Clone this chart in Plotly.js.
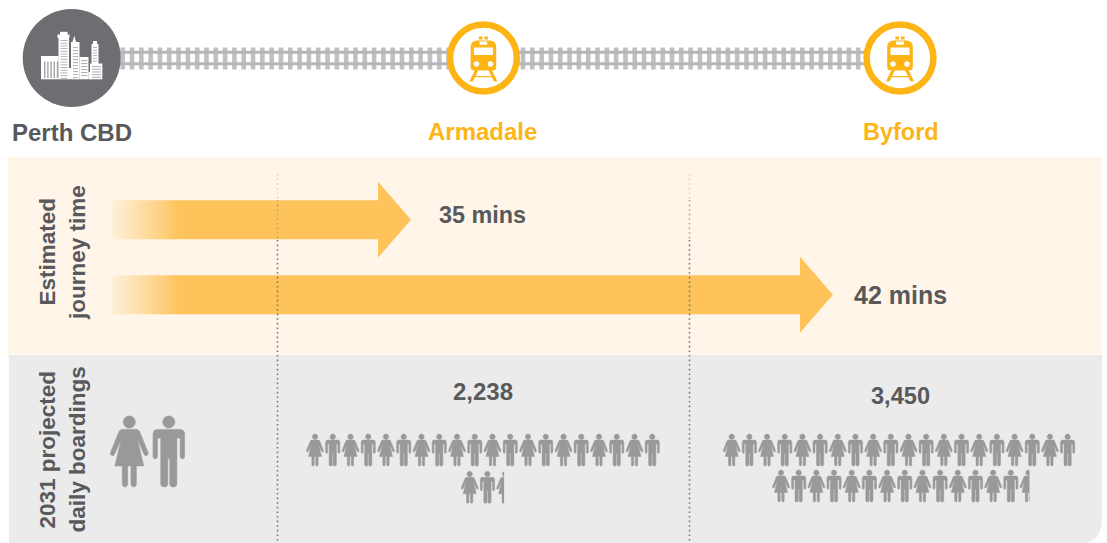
<!DOCTYPE html>
<html>
<head>
<meta charset="utf-8">
<script src="https://cdn.plot.ly/plotly-3.0.1.min.js"></script>
<style>html,body{margin:0;padding:0;background:#fff}#chart{width:1107px;height:543px}</style>
</head>
<body>
<div id="chart"></div>
<script>
// ---- values ----
const originLabel = "Perth CBD";
const journeyStations = ["Armadale", "Byford"];
const journeyMinutes = [35, 42];
const boardings = [2238, 3450];
const boardingsPerIcon = 100;
const iconsPerRow = 20;
const journeyLabel = ["Estimated", "journey time"];
const boardingLabel = ["2031 projected", "daily boardings"];

// ---- styling / layout ----
const GREY_TXT = "#58595b", AMBER = "#fdb515", ICON = "#98999b", ARROW = "#fec35a";
const FONT = "Liberation Sans, Arial, sans-serif";
const W = 1107, H = 543;
const PANEL_GREY = "#ebebeb", PANEL_CREAM = "#fff5e8";

// icon outlines, in units of a 212-tall drawing (origin top-centre)
const ICON_H = 212;
const womanCmds = [
  ["M",-22,40],["L",22,40],["Q",28,41,31,47],["L",56,109],["Q",58,116,52,118],["Q",47,120,44,114],["L",24,68],
  ["L",43,149],["L",21,149],["L",21,204],["Q",20,212,13,212],["Q",6,212,5,204],["L",5,149],["L",-5,149],["L",-5,204],
  ["Q",-6,212,-13,212],["Q",-20,212,-21,204],["L",-21,149],["L",-43,149],["L",-24,68],["L",-44,114],["Q",-47,120,-52,118],
  ["Q",-58,116,-56,109],["L",-31,47],["Q",-28,41,-22,40],["Z"]
];
const manCmds = [
  ["M",-34,40],["L",34,40],["Q",47,41,47,54],["L",47,120],["Q",47,128,40,128],["Q",34,128,34,120],["L",34,66],["L",24,66],
  ["L",24,204],["Q",23,212,13,212],["Q",4,212,3,204],["L",3,128],["L",-3,128],["L",-3,204],["Q",-4,212,-13,212],
  ["Q",-23,212,-24,204],["L",-24,66],["L",-34,66],["L",-34,120],["Q",-34,128,-40,128],["Q",-47,128,-47,120],["L",-47,54],
  ["Q",-47,41,-34,40],["Z"]
];
const ICON_HALF_W = {woman:58, man:47};

function circlePath(cx, cy, r){
  const k = 0.5523*r;
  return `M${cx-r},${cy}C${cx-r},${cy-k} ${cx-k},${cy-r} ${cx},${cy-r}C${cx+k},${cy-r} ${cx+r},${cy-k} ${cx+r},${cy}`+
         `C${cx+r},${cy+k} ${cx+k},${cy+r} ${cx},${cy+r}C${cx-k},${cy+r} ${cx-r},${cy+k} ${cx-r},${cy}Z`;
}
function iconPath(kind, cx, top, height){
  const s = height/ICON_H;
  const cmds = kind === "woman" ? womanCmds : manCmds;
  let p = "";
  for (const c of cmds){
    p += c[0];
    const nums = [];
    for (let i=1;i<c.length;i+=2) nums.push((cx+c[i]*s).toFixed(2)+","+(top+c[i+1]*s).toFixed(2));
    p += nums.join(" ");
  }
  return p + circlePath(cx, top+18*s, 18*s);
}

const shapes = [];
function pathShape(path, fill, layer, strokeW){
  shapes.push({type:"path", path, fillcolor:fill, line:{width:strokeW||0, color:fill}, layer:layer||"below", xref:"x", yref:"y"});
}
function rectShape(x0,y0,x1,y1,fill,layer){
  shapes.push({type:"rect", x0,y0,x1,y1, fillcolor:fill, line:{width:0}, layer:layer||"below", xref:"x", yref:"y"});
}

// panels
pathShape("M8,157L1102,157L1102,354.5L8,354.5Z", PANEL_CREAM);
pathShape("M9,355L1102,355L1102,518Q1102,543 1082,543L9,543Z", PANEL_GREY);

// railway track
const tieStep = 9.31;
for (let x=122.7; x<865; x+=tieStep) rectShape(x-2.3,47.5,x+2.3,69.5,"#bfc0c2");
rectShape(120,50.8,866,53.8,"#b5b6b8");
rectShape(120,62.3,866,65.3,"#b5b6b8");

// Perth CBD circle and skyline
const cityX = 71.7, cityY = 58;
pathShape(circlePath(cityX,cityY,49),"#6d6e71");
[[41,56,58.5,79.3],[58.5,36,69,79.3],[71,42,79.5,79.3],[79.5,57,88.5,79.3],[91.5,44,98.5,64],[90,63.5,102.3,79.3],[88.5,72,91,79.3],[69,68,71,79.3]]
  .forEach(b=>rectShape(b[0],b[1],b[2],b[3],"#fff"));
rectShape(60,31.8,67.5,36.5,"#fff");
rectShape(57.5,34.5,69.5,38,"#fff");
pathShape("M72.5,42L74.3,35.5L76,42Z","#fff");
rectShape(93,41,97,44.5,"#fff");
for (let x=44; x<57; x+=3.2) rectShape(x,61.5,x+1.4,78,"#a3a4a6");
for (let y=40; y<78; y+=2.7) rectShape(60.5,y,67.5,y+1,"#b3b4b6");
for (let y=47; y<78; y+=3) rectShape(73,y,78,y+1.1,"#b3b4b6");
for (let y=60; y<78; y+=3) rectShape(81,y,87.5,y+1.1,"#b3b4b6");
for (let y=47; y<62; y+=2.7) rectShape(93,y,97,y+1,"#b3b4b6");
for (let y=66; y<78; y+=2.7) rectShape(92,y,101,y+1.1,"#b3b4b6");

// stations: ring + train
const ringCentres = [483.4, 900];
ringCentres.forEach(c=>{
  const y = 58;
  shapes.push({type:"circle", x0:c-33.4,x1:c+33.4,y0:y-33.4,y1:y+33.4, fillcolor:"#fff", line:{color:AMBER,width:6.5}, layer:"below", xref:"x", yref:"y"});
  pathShape(`M${c-12.8},${y+9}L${c-12.8},${y-11}Q${c-12.8},${y-17.5} ${c-6},${y-17.5}L${c+6},${y-17.5}Q${c+12.8},${y-17.5} ${c+12.8},${y-11}L${c+12.8},${y+9}Q${c+12.8},${y+12.5} ${c+9},${y+12.5}L${c-9},${y+12.5}Q${c-12.8},${y+12.5} ${c-12.8},${y+9}Z`,AMBER);
  rectShape(c-4.6,y-21.5,c-1,y-18.5,AMBER);
  rectShape(c+1,y-21.5,c+4.6,y-18.5,AMBER);
  rectShape(c-3.8,y-16.5,c+3.8,y-13.2,"#fff");
  rectShape(c-9.5,y-10.5,c+9.5,y-3,"#fff");
  pathShape(circlePath(c-7,y+6,2.8),"#fff");
  pathShape(circlePath(c+7,y+6,2.8),"#fff");
  pathShape(`M${c-8.5},${y+12}L${c-5},${y+12}L${c-10.5},${y+23.5}L${c-14},${y+23.5}Z`,AMBER);
  pathShape(`M${c+8.5},${y+12}L${c+5},${y+12}L${c+10.5},${y+23.5}L${c+14},${y+23.5}Z`,AMBER);
  rectShape(c-9,y+18,c+9,y+19.2,AMBER);
});

// dotted dividers, fading out towards the top
[277.5, 689.5].forEach(x=>{
  [[174,200,"#d8d4ce"],[200,240,"#aaa8a4"],[240,543,"#77787b"]].forEach(seg=>{
    shapes.push({type:"line", x0:x, x1:x, y0:seg[0], y1:seg[1], layer:"above", xref:"x", yref:"y",
      line:{color:seg[2], width:1.6, dash:"1.6px,3px"}});
  });
});

// pictogram rows: one figure per boardingsPerIcon, alternating woman / man
const rowGeom = [
  {row1X:315, row2X:469.7, step:17.75, row1Top:434, row2Top:471.3},
  {row1X:731.7, row2X:781, step:17.68, row1Top:434, row2Top:470}
];
const ICON_SMALL = 32;
boardings.forEach((v,i)=>{
  const g = rowGeom[i];
  const n = v/boardingsPerIcon;
  const total = Math.ceil(n);
  let whole = "";
  const clips = [];
  for (let k=0;k<total;k++){
    const kind = k%2===0 ? "woman" : "man";
    const inFirst = k<iconsPerRow;
    const cx = inFirst ? g.row1X+k*g.step : g.row2X+(k-iconsPerRow)*g.step;
    const top = inFirst ? g.row1Top : g.row2Top;
    whole += iconPath(kind,cx,top,ICON_SMALL);
    const frac = Math.min(1,n-k);
    if (frac<1){
      const hw = ICON_HALF_W[kind]*ICON_SMALL/ICON_H;
      clips.push([cx-hw+frac*2*hw+1,top-1,cx+hw+2,top+ICON_SMALL+1]);
    }
  }
  pathShape(whole,ICON,"below",0.5);
  clips.forEach(c=>rectShape(c[0],c[1],c[2],c[3],PANEL_GREY));
});

// legend pair of large figures
pathShape(iconPath("woman",129.3,416,71),ICON,"below",0.6);
pathShape(iconPath("man",168.8,416,71),ICON,"below",0.6);

// journey arrows (drawn as filled traces so the gradient follows the axis)
const arrowGeom = [
  {tail:112, neck:378, tip:411, y:219.7, shaft:19.5, head:38},
  {tail:112, neck:800, tip:833, y:294.7, shaft:19.5, head:38}
];
const traces = journeyMinutes.map((m,i)=>{
  const a = arrowGeom[i];
  return {
    type:"scatter", mode:"lines", name:journeyStations[i]+" "+m+" mins",
    x:[a.tail,a.neck,a.neck,a.tip,a.neck,a.neck,a.tail,a.tail],
    y:[a.y-a.shaft,a.y-a.shaft,a.y-a.head,a.y,a.y+a.head,a.y+a.shaft,a.y+a.shaft,a.y-a.shaft],
    fill:"toself", line:{width:0,color:ARROW},
    fillgradient:{type:"horizontal", start:112, stop:180,
      colorscale:[[0,"#fff0d9"],[0.5,"#fedb9f"],[1,ARROW]]},
    hoverinfo:"skip", showlegend:false
  };
});

// text
function label(text,x,y,size,color,extra){
  return Object.assign({text:"<b>"+text+"</b>", x, y, xref:"x", yref:"y", showarrow:false,
    xanchor:"center", yanchor:"middle", font:{family:FONT,size,color}}, extra||{});
}
const annotations = [
  label(originLabel,72,132,24,GREY_TXT),
  label(journeyStations[0],482.5,131.5,24,AMBER),
  label(journeyStations[1],900.5,131.5,23.5,AMBER),
  label(journeyMinutes[0]+" mins",482.5,215,23.4,GREY_TXT),
  label(journeyMinutes[1]+" mins",900.5,295,25,GREY_TXT),
  label(boardings[0].toLocaleString("en-US"),483,391.5,24,GREY_TXT),
  label(boardings[1].toLocaleString("en-US"),900,396,23.6,GREY_TXT),
  label(journeyLabel[0],46.5,252,22.5,GREY_TXT,{textangle:-90}),
  label(journeyLabel[1],77,253,22.5,GREY_TXT,{textangle:-90}),
  label(boardingLabel[0],46.5,450,22.5,GREY_TXT,{textangle:-90}),
  label(boardingLabel[1],77,449.5,22.5,GREY_TXT,{textangle:-90})
];

const layout = {
  width:W, height:H, margin:{l:0,r:0,t:0,b:0,pad:0},
  paper_bgcolor:"#fff", plot_bgcolor:"#fff", showlegend:false,
  xaxis:{range:[0,W], visible:false, fixedrange:true},
  yaxis:{range:[H,0], visible:false, fixedrange:true},
  shapes, annotations
};
Plotly.newPlot("chart",traces,layout,{displayModeBar:false,staticPlot:true});
</script>
</body>
</html>
